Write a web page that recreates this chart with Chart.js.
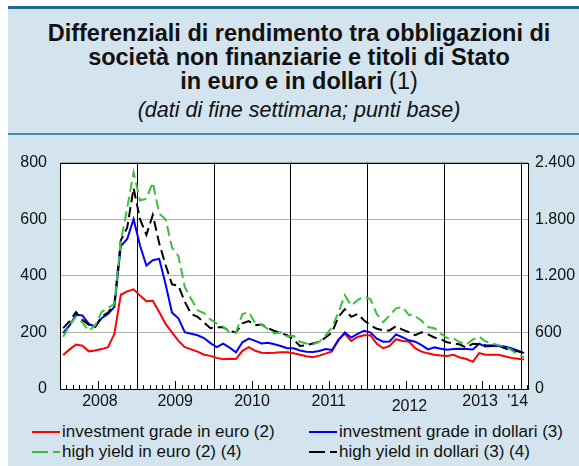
<!DOCTYPE html>
<html>
<head>
<meta charset="utf-8">
<script src="https://cdn.jsdelivr.net/npm/chart.js@4.4.1/dist/chart.umd.min.js"></script>
<style>
  body { margin: 0; background: #fff; font-family: "Liberation Sans", Arial, sans-serif; }
  #page { position: relative; width: 579px; height: 466px; overflow: hidden; }
  #panel { position: absolute; left: 8px; top: 6px; width: 571px; height: 460px; background: #d3e4ee; border-top: 3px solid #1d6b8d; box-sizing: border-box; }
  #header { position: absolute; left: 8px; top: 9px; width: 571px; height: 124px; border-bottom: 2px solid #4b8db3; }
  #title { position: absolute; left: 0; top: 21px; width: 598px; text-align: center; font-weight: bold; font-size: 23.5px; line-height: 24px; color: #111; }
  #title .n { font-weight: normal; }
  #subtitle { position: absolute; left: 0; top: 98px; width: 598px; text-align: center; font-style: italic; font-size: 21.5px; line-height: 24px; color: #111; }
  #chartBox { position: absolute; left: 0; top: 140px; width: 579px; height: 275px; }
  .leg { position: absolute; font-size: 17px; line-height: 20px; color: #111; white-space: nowrap; }
  .leg i { display: inline-block; width: 28px; height: 2px; vertical-align: middle; margin-right: 2px; position: relative; top: -1px; }
</style>
</head>
<body>
<div id="page">
  <div id="panel"></div>
  <div id="header"></div>
  <div id="title">Differenziali di rendimento tra obbligazioni di<br>società non finanziarie e titoli di Stato<br>in euro e in dollari <span class="n">(1)</span></div>
  <div id="subtitle">(dati di fine settimana; punti base)</div>
  <div id="chartBox"><canvas id="chart"></canvas></div>
  <div class="leg" style="left:32px; top:422px;"><i style="background:#ff0000"></i>investment grade in euro (2)</div>
  <div class="leg" style="left:309px; top:422px;"><i style="background:#0000ff"></i>investment grade in dollari (3)</div>
  <div class="leg" style="left:32px; top:442px;"><i style="background:linear-gradient(to right,#3cc03c 0 16px,transparent 16px 21px,#3cc03c 21px 28px)"></i>high yield in euro (2) (4)</div>
  <div class="leg" style="left:309px; top:442px;"><i style="background:linear-gradient(to right,#000 0 16px,transparent 16px 21px,#000 21px 28px)"></i>high yield in dollari (3) (4)</div>
</div>
<script>
// mesi (dati letti a metà mese)
const months = [
  '2008-01','2008-02','2008-03','2008-04','2008-05','2008-06','2008-07','2008-08','2008-09','2008-10','2008-11','2008-12',
  '2009-01','2009-02','2009-03','2009-04','2009-05','2009-06','2009-07','2009-08','2009-09','2009-10','2009-11','2009-12',
  '2010-01','2010-02','2010-03','2010-04','2010-05','2010-06','2010-07','2010-08','2010-09','2010-10','2010-11','2010-12',
  '2011-01','2011-02','2011-03','2011-04','2011-05','2011-06','2011-07','2011-08','2011-09','2011-10','2011-11','2011-12',
  '2012-01','2012-02','2012-03','2012-04','2012-05','2012-06','2012-07','2012-08','2012-09','2012-10','2012-11','2012-12',
  '2013-01','2013-02','2013-03','2013-04','2013-05','2013-06','2013-07','2013-08','2013-09','2013-10','2013-11','2013-12',
  '2014-01'
];

// investment grade in euro (scala di sinistra)
const igEuro = [
  120,140,157,153,133,136,141,148,195,333,345,352,
  330,310,312,272,230,200,170,148,140,132,121,117,
  110,105,107,106,135,148,135,128,127,128,130,130,
  126,121,116,112,118,125,133,175,195,170,184,190,
  190,160,144,152,176,170,168,144,132,126,121,118,
  117,121,111,106,96,127,121,121,121,116,110,107,
  104
];

// investment grade in dollari (scala di sinistra)
const igDollari = [
  198,225,262,260,230,220,250,265,290,505,530,600,
  507,436,455,460,370,270,250,201,195,190,180,162,
  148,160,146,130,165,178,170,161,163,158,152,144,
  144,136,132,131,134,141,138,172,200,182,195,206,
  200,178,167,168,193,183,172,167,155,140,147,142,
  139,141,142,141,140,160,150,152,153,150,144,136,
  127
];

// high yield in euro (scala di destra)
const hyEuro = [
  555,675,768,705,615,675,816,861,900,1560,1920,2295,
  1998,2016,2190,1860,1800,1500,1410,1080,954,834,804,738,
  696,660,600,600,795,816,699,678,636,588,600,558,
  564,501,483,474,501,570,654,810,993,885,942,978,
  954,795,708,780,855,870,786,774,723,657,645,585,
  540,534,495,471,525,555,504,483,465,450,414,366,
  336
];

// high yield in dollari (scala di destra)
const hyDollari = [
  645,720,816,735,681,657,768,810,900,1575,1710,2130,
  1800,1635,1845,1545,1314,1110,1095,924,795,765,705,645,
  654,654,615,600,696,720,675,684,645,615,594,570,
  525,456,465,483,501,546,600,765,846,765,795,729,
  675,639,621,621,666,630,603,570,600,579,546,528,
  495,483,471,438,480,474,465,462,459,432,414,399,
  381
];

const yearTicks = [2008.52, 2009.5, 2010.5, 2011.5, 2012.55, 2013.47, 2013.96];
const yearLabels = ['2008', '2009', '2010', '2011', '2012', '2013', "'14"];
const leftTicks = [0, 200, 400, 600, 800];
const rightTicks = [0, 600, 1200, 1800, 2400];

// mese -> anno decimale
function toYear(m) {
  const p = m.split('-');
  return parseInt(p[0]) + (parseInt(p[1]) - 0.5) / 12;
}

function series(values) {
  return values.map((v, i) => ({ x: toYear(months[i]), y: v }));
}

function fmtThousands(v) {
  return String(v).replace(/\B(?=(\d{3})+(?!\d))/g, '.');
}

// sfondo bianco, linee di fine anno, cornice e tacche mensili
const framePlugin = {
  id: 'frame',
  beforeDraw(chart) {
    const a = chart.chartArea, ctx = chart.ctx;
    ctx.save();
    ctx.fillStyle = '#fff';
    ctx.fillRect(a.left, a.top, a.right - a.left, a.bottom - a.top);
    ctx.restore();
  },
  beforeDatasetsDraw(chart) {
    const a = chart.chartArea, ctx = chart.ctx, xs = chart.scales.x;
    ctx.save();
    ctx.strokeStyle = '#000';
    ctx.lineWidth = 1;
    for (let y = 2009; y <= 2014; y++) {
      const px = Math.round(xs.getPixelForValue(y)) + 0.5;
      ctx.beginPath();
      ctx.moveTo(px, a.top);
      ctx.lineTo(px, a.bottom);
      ctx.stroke();
    }
    for (let k = 1; k < 74; k++) {
      const v = 2008 + k / 12;
      if (v >= xs.max) break;
      const px = Math.round(xs.getPixelForValue(v)) + 0.5;
      const len = (k % 12 === 6) ? 8 : 4;
      ctx.beginPath();
      ctx.moveTo(px, a.bottom);
      ctx.lineTo(px, a.bottom - len);
      ctx.stroke();
    }
    ctx.strokeRect(Math.round(a.left) + 0.5, Math.round(a.top) + 0.5,
      Math.round(a.right - a.left), Math.round(a.bottom - a.top));
    ctx.restore();
  }
};

const font = { family: '"Liberation Sans", Arial, sans-serif', size: 16 };

new Chart(document.getElementById('chart'), {
  type: 'line',
  data: {
    datasets: [
      { label: 'high yield in euro (2) (4)', data: series(hyEuro), yAxisID: 'y2',
        borderColor: '#3cc03c', borderWidth: 2, borderDash: [10, 5] },
      { label: 'high yield in dollari (3) (4)', data: series(hyDollari), yAxisID: 'y2',
        borderColor: '#000', borderWidth: 2, borderDash: [10, 5] },
      { label: 'investment grade in dollari (3)', data: series(igDollari), yAxisID: 'y',
        borderColor: '#0000ff', borderWidth: 2 },
      { label: 'investment grade in euro (2)', data: series(igEuro), yAxisID: 'y',
        borderColor: '#ff0000', borderWidth: 2 }
    ]
  },
  options: {
    responsive: true,
    maintainAspectRatio: false,
    animation: false,
    layout: { padding: { top: 14, left: 0, right: 0, bottom: 0 } },
    elements: { point: { radius: 0 }, line: { tension: 0 } },
    plugins: { legend: { display: false }, tooltip: { enabled: false } },
    scales: {
      x: {
        type: 'linear', min: 2008, max: 2014.094,
        grid: { display: false, drawTicks: false }, border: { display: false },
        afterBuildTicks: s => { s.ticks = yearTicks.map(v => ({ value: v })); },
        afterFit: s => { s.height = 26; },
        ticks: {
          autoSkip: false, maxRotation: 0, padding: 3, color: '#111',
          // l'etichetta 2012 è un po' più in basso
          font: c => (c.index === 4 ? Object.assign({}, font, { lineHeight: '9.7px' }) : font),
          callback: (v, i) => (i === 4 ? ['', yearLabels[i]] : yearLabels[i])
        }
      },
      y: {
        position: 'left', min: 0, max: 800,
        afterBuildTicks: s => { s.ticks = leftTicks.map(v => ({ value: v })); },
        afterFit: s => { s.width = 60; },
        grid: { color: '#b0b0b0', drawTicks: false, lineWidth: 1 },
        border: { display: false },
        ticks: { padding: 13, color: '#111', font: font }
      },
      y2: {
        position: 'right', min: 0, max: 2400,
        afterBuildTicks: s => { s.ticks = rightTicks.map(v => ({ value: v })); },
        afterFit: s => { s.width = 51; },
        grid: { display: false, drawTicks: false },
        border: { display: false },
        ticks: { padding: 7, color: '#111', font: font, callback: v => fmtThousands(v) }
      }
    }
  },
  plugins: [framePlugin]
});
</script>
</body>
</html>
